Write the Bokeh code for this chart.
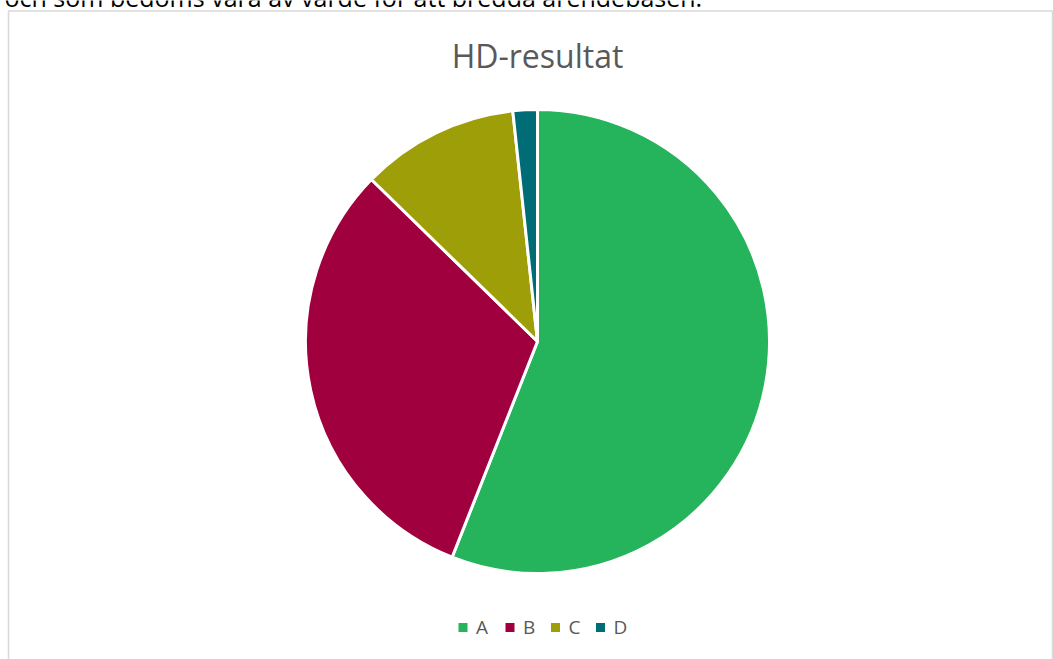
import math
from bokeh.plotting import figure
from bokeh.models import Range1d, ColumnDataSource
from bokeh.core.properties import value
from bokeh.embed import file_html
from bokeh.resources import INLINE

# Data
categories = ["A", "B", "C", "D"]
values = [56.0, 31.3, 11.0, 1.7]
colors = ["#25B35B", "#A1003E", "#9E9E09", "#006D76"]
title_text = "HD-resultat"
page_text = "och som bedöms vara av värde för att bredda ärendebasen."

W, H = 1053, 659
p = figure(width=W, height=H, output_backend="svg", toolbar_location=None,
           x_range=Range1d(0, W), y_range=Range1d(0, H), min_border=0)
p.axis.visible = False
p.grid.visible = False
p.outline_line_color = None
p.background_fill_color = "white"

def py(page_y):
    return H - page_y

# body text above the chart (cut off at the top in the original)
p.text(x=[4], y=[py(13)], text=[page_text], text_align="left",
       text_baseline="bottom", text_font=value("Open Sans"),
       text_font_size="25px", text_color="#000000")

# chart border (bottom off-screen)
p.quad(left=[8], right=[1052], top=[py(10.5)], bottom=[-20],
       fill_color=None, line_color="#D9D9D9", line_width=1.5)

# pie
cx, cy, r = 537, py(341), 232
total = sum(values)
starts, ends = [], []
acc = 0.0
for v in values:
    a0 = math.pi / 2 - 2 * math.pi * acc / total
    acc += v
    a1 = math.pi / 2 - 2 * math.pi * acc / total
    starts.append(a0)
    ends.append(a1)
src = ColumnDataSource(dict(start=starts, end=ends, color=colors, cat=categories))
p.wedge(x=cx, y=cy, radius=r, start_angle="start", end_angle="end",
        direction="clock", fill_color="color", line_color="white",
        line_width=3, source=src)

# title
p.text(x=[537], y=[py(55)], text=[title_text], text_align="center",
       text_baseline="middle", text_font=value("Open Sans"),
       text_font_size="32px", text_color="#595959")

# legend
lx = [462.5, 509.5, 555, 600]
ly = py(627)
p.rect(x=lx, y=[ly] * 4, width=9, height=9, fill_color=colors, line_color=None)
p.text(x=[v + 13 for v in lx], y=[py(626)] * 4, text=categories, text_align="left",
       text_baseline="middle", text_font=value("Open Sans"),
       text_font_size="19px", text_color="#595959")

open("out.html", "w").write(file_html(p, INLINE))
